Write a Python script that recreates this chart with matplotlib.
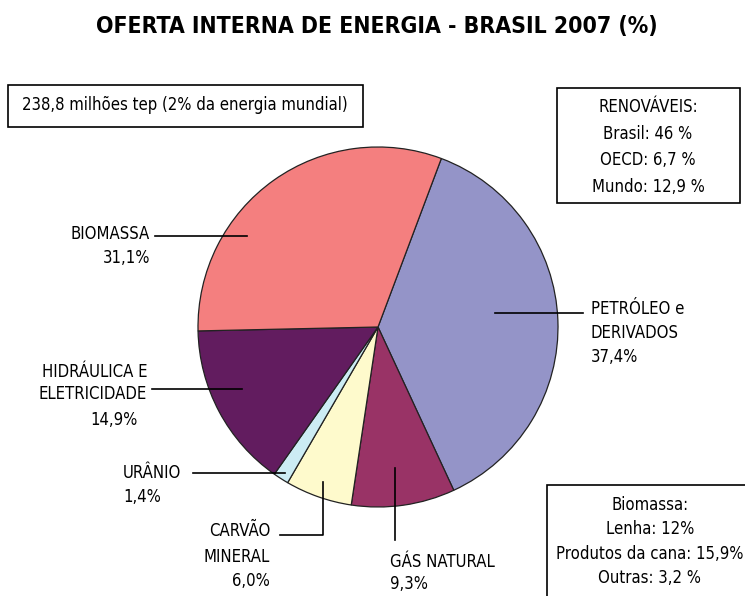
import matplotlib.pyplot as plt
from matplotlib.patches import Rectangle

plt.rcParams['font.family'] = ['DejaVu Sans']
plt.rcParams['font.stretch'] = 'condensed'

W, H = 745, 596

# dados (% da oferta interna), na ordem do grafico, sentido horario
fontes = ['PETRÓLEO e\nDERIVADOS', 'GÁS NATURAL', 'CARVÃO\nMINERAL',
          'URÂNIO', 'HIDRÁULICA E\nELETRICIDADE', 'BIOMASSA']
valores = [37.4, 9.3, 6.0, 1.4, 14.9, 31.1]
rotulos = ['37,4%', '9,3%', '6,0%', '1,4%', '14,9%', '31,1%']
cores = ['#9494c8', '#993366', '#fefacc', '#ccecf4', '#621c5f', '#f47f7f']

renovaveis = ['RENOVÁVEIS:', 'Brasil: 46 %', 'OECD: 6,7 %', 'Mundo: 12,9 %']
biomassa = ['Biomassa:', 'Lenha: 12%', 'Produtos da cana: 15,9%', 'Outras: 3,2 %']


def Y(y):
    # pixel de cima para baixo -> coordenada do eixo
    return H - y


fig = plt.figure(figsize=(W / 100, H / 100), dpi=100)
ax = fig.add_axes([0, 0, 1, 1])

ax.pie(valores, colors=cores, startangle=69.4, counterclock=False,
       center=(378, Y(327)), radius=180,
       wedgeprops=dict(edgecolor='#222222', linewidth=0.9))
ax.set_xlim(0, W)
ax.set_ylim(0, H)
ax.set_aspect('equal')
ax.axis('off')

fs = 12
lk = dict(color='black', lw=1.2)

ax.text(377, Y(27), 'OFERTA INTERNA DE ENERGIA - BRASIL 2007 (%)',
        ha='center', va='center', fontsize=16.5, fontweight='bold')

# BIOMASSA
ax.plot([155, 247], [Y(236), Y(236)], **lk)
ax.text(150, Y(234), fontes[5], ha='right', va='center', fontsize=fs)
ax.text(150, Y(258), rotulos[5], ha='right', va='center', fontsize=fs)

# HIDRAULICA
ax.plot([152, 242], [Y(389), Y(389)], **lk)
ax.text(147, Y(383), fontes[4], ha='right', va='center', fontsize=fs,
        linespacing=1.22)
ax.text(138, Y(420), rotulos[4], ha='right', va='center', fontsize=fs)

# URANIO
ax.plot([193, 285], [Y(473), Y(473)], **lk)
ax.text(123, Y(473), fontes[3], ha='left', va='center', fontsize=fs)
ax.text(123, Y(497), rotulos[3], ha='left', va='center', fontsize=fs)

# CARVAO
ax.plot([280, 323, 323], [Y(535), Y(535), Y(482)], **lk)
ax.text(270, Y(544), fontes[2], ha='right', va='center', fontsize=fs,
        linespacing=1.52)
ax.text(270, Y(581), rotulos[2], ha='right', va='center', fontsize=fs)

# GAS
ax.plot([395, 395], [Y(468), Y(540)], **lk)
ax.text(390, Y(562), fontes[1], ha='left', va='center', fontsize=fs)
ax.text(390, Y(584), rotulos[1], ha='left', va='center', fontsize=fs)

# PETROLEO
ax.plot([495, 583], [Y(313), Y(313)], **lk)
ax.text(591, Y(321), fontes[0], ha='left', va='center', fontsize=fs,
        linespacing=1.4)
ax.text(591, Y(357), rotulos[0], ha='left', va='center', fontsize=fs)

# caixas
ax.add_patch(Rectangle((8, Y(127)), 355, 42, fill=False, lw=1.2,
                       edgecolor='black'))
ax.text(185, Y(105), '238,8 milhões tep (2% da energia mundial)',
        ha='center', va='center', fontsize=fs)

ax.add_patch(Rectangle((557, Y(203)), 183, 115, fill=False, lw=1.2,
                       edgecolor='black'))
for i, t in enumerate(renovaveis):
    ax.text(648, Y(107 + 26.7 * i), t, ha='center', va='center', fontsize=fs)

ax.add_patch(Rectangle((547, Y(600)), 205, 115, fill=False, lw=1.2,
                       edgecolor='black', clip_on=False))
for i, t in enumerate(biomassa):
    ax.text(650, Y(505 + 24.3 * i), t, ha='center', va='center', fontsize=fs)

fig.savefig('out.png', dpi=100)
